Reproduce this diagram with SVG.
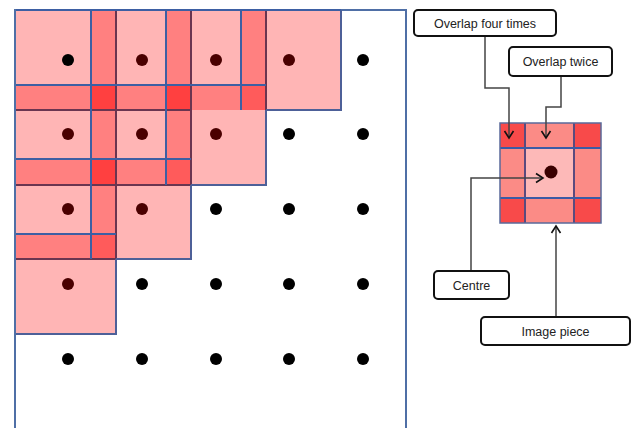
<svg xmlns="http://www.w3.org/2000/svg" width="635" height="428" viewBox="0 0 635 428">
<defs>
<style>
.dot{fill:#000}
.sq{fill:#ff0000;fill-opacity:0.29}
.lt{stroke:#3d5fa3;stroke-width:2;fill:none}
.dk{stroke:#6a3550;stroke-width:2;fill:none}
.ex{stroke:#4d6098;stroke-width:2;fill:none}
.box{fill:#fff;stroke:#111;stroke-width:2}
.lbl{font-family:"Liberation Sans",Arial,sans-serif;font-size:12.5px;fill:#222;text-anchor:middle}
.con{stroke:#444;stroke-width:1.5;fill:none;marker-end:url(#ah)}
</style>
<marker id="ah" markerUnits="userSpaceOnUse" markerWidth="12" markerHeight="12" viewBox="-8 -6 10 12" refX="0" refY="0" orient="auto">
<path d="M-7,-4.5 L0,0 L-7,4.5" fill="none" stroke="#111" stroke-width="1.6"/>
</marker>
</defs>
<rect width="635" height="428" fill="#fff"/>
<g id="frame">
<rect x="15" y="10" width="391" height="440" fill="none" stroke="#4f6fa6" stroke-width="2"/>
</g>
<g id="dots">
<circle class="dot" cx="142" cy="60" r="6"/><circle class="dot" cx="216" cy="60" r="6"/><circle class="dot" cx="289" cy="60" r="6"/><circle class="dot" cx="363" cy="60" r="6"/>
<circle class="dot" cx="68" cy="134" r="6"/><circle class="dot" cx="142" cy="134" r="6"/><circle class="dot" cx="216" cy="134" r="6"/><circle class="dot" cx="289" cy="134" r="6"/><circle class="dot" cx="363" cy="134" r="6"/>
<circle class="dot" cx="68" cy="209" r="6"/><circle class="dot" cx="142" cy="209" r="6"/><circle class="dot" cx="216" cy="209" r="6"/><circle class="dot" cx="289" cy="209" r="6"/><circle class="dot" cx="363" cy="209" r="6"/>
<circle class="dot" cx="68" cy="284" r="6"/><circle class="dot" cx="142" cy="284" r="6"/><circle class="dot" cx="216" cy="284" r="6"/><circle class="dot" cx="289" cy="284" r="6"/><circle class="dot" cx="363" cy="284" r="6"/>
<circle class="dot" cx="68" cy="359" r="6"/><circle class="dot" cx="142" cy="359" r="6"/><circle class="dot" cx="216" cy="359" r="6"/><circle class="dot" cx="289" cy="359" r="6"/><circle class="dot" cx="363" cy="359" r="6"/>
</g>
<g id="pieces">
<rect class="sq" x="16" y="10" width="100" height="100"/>
<rect class="sq" x="91" y="10" width="100" height="100"/>
<rect class="sq" x="166" y="10" width="100" height="100"/>
<rect class="sq" x="241" y="10" width="100" height="100"/>
<rect class="sq" x="16" y="85" width="100" height="100"/>
<rect class="sq" x="91" y="85" width="100" height="100"/>
<rect class="sq" x="166" y="85" width="100" height="100"/>
<rect class="sq" x="16" y="159" width="100" height="100"/>
<rect class="sq" x="91" y="159" width="100" height="100"/>
<rect class="sq" x="16" y="234" width="100" height="100"/>
<path class="dk" d="M116,10V185M191,10V185M266,10V110M116,159V259M16,110H191M16,185H191M91,110H166M16,259H116"/>
<path class="ex" d="M341,10V110H266M266,110V185H191M191,185V259H116M116,259V334H16"/>
<path class="lt" d="M91,10V259M166,10V185M241,10V110M16,85H266M16,159H191M16,234H116M16,10H341"/>
<circle cx="68" cy="60" r="6" fill="#000"/>
</g>
<g id="piece">
<rect x="500" y="123" width="101" height="100" fill="#fb8b86"/>
<rect x="525" y="148" width="49" height="50" fill="#fdb9b8"/>
<rect x="500" y="123" width="25" height="25" fill="#f84a4a"/>
<rect x="574" y="123" width="27" height="25" fill="#f84a4a"/>
<rect x="500" y="198" width="25" height="25" fill="#f84a4a"/>
<rect x="574" y="198" width="27" height="25" fill="#f84a4a"/>
<path d="M525,123V223M574,123V223" stroke="#5b4a7e" stroke-width="2" fill="none"/>
<path d="M500,148H601M500,198H601" stroke="#3b5ba5" stroke-width="2" fill="none"/>
<rect x="500" y="123" width="101" height="100" fill="none" stroke="#5a6a9a" stroke-width="1.5"/>
<circle cx="551" cy="172" r="6.5" fill="#3a0000"/>
</g>
<g id="connectors">
<path class="con" d="M485,36V88H509V138"/>
<path class="con" d="M561,76V107H546V138"/>
<path class="con" d="M471,271V178H543"/>
<path class="con" d="M556,317V226"/>
</g>
<g id="label-four">
<rect class="box" x="414" y="10" width="142" height="26" rx="4"/>
<text class="lbl" x="485" y="27.5">Overlap four times</text>
</g>
<g id="label-twice">
<rect class="box" x="509" y="47" width="103" height="29" rx="4"/>
<text class="lbl" x="560.5" y="65.5">Overlap twice</text>
</g>
<g id="label-centre">
<rect class="box" x="434" y="271" width="75" height="28" rx="4"/>
<text class="lbl" x="471.5" y="289.5">Centre</text>
</g>
<g id="label-image">
<rect class="box" x="481" y="317" width="149" height="28" rx="4"/>
<text class="lbl" x="555.5" y="335.5">Image piece</text>
</g>
</svg>
